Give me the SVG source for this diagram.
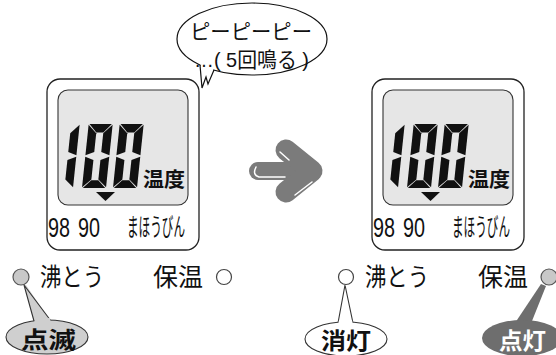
<svg xmlns="http://www.w3.org/2000/svg" xmlns:xlink="http://www.w3.org/1999/xlink" width="556" height="355" viewBox="0 0 556 355">
<style>
.outer{fill:#fff;stroke:#222;stroke-width:1.3}
.lcd{fill:#e6e6e6;stroke:#333;stroke-width:1.1}
.seg{fill:#111}
.jp{font-family:"Noto Sans CJK JP","Noto Sans",sans-serif;fill:#111}
.num{font-family:"Liberation Sans","Noto Sans CJK JP",sans-serif;fill:#111}
.b{font-weight:bold}
.ledon{fill:#c8c8c8;stroke:#555;stroke-width:1.2}
.ledoff{fill:#fff;stroke:#444;stroke-width:1.2}
.hl{fill:none;stroke:#fff;stroke-width:1.5;stroke-linecap:round}
</style>
<defs>
<g id="zero" class="seg">
<polygon points="0.8,0 23.2,0 15.5,8.5 8.5,8.5"/>
<polygon points="0,0.8 8.5,9.3 8.5,28 0,31.2"/>
<polygon points="0,32.8 8.5,36 8.5,55.5 0,63.2"/>
<polygon points="24,0.8 24,31.2 15.5,28 15.5,9.3"/>
<polygon points="24,32.8 24,63.2 15.5,55.5 15.5,36"/>
<polygon points="0.8,64 8.5,56.3 15.5,56.3 23.2,64"/>
</g>
<g id="one" class="seg">
<polygon points="24,0.8 24,31.2 15.5,28 15.5,9.3"/>
<polygon points="24,32.8 24,63.2 15.5,55.5 15.5,36"/>
</g>
<g id="panel">
<rect class="outer" x="47" y="79" width="152" height="171" rx="13"/>
<rect class="lcd" x="58" y="90" width="130" height="115" rx="10"/>
<use xlink:href="#one" transform="translate(55.7,124) skewX(-6)"/>
<use xlink:href="#zero" transform="translate(88.7,124) skewX(-6)"/>
<use xlink:href="#zero" transform="translate(119.7,124) skewX(-6)"/>
<text class="jp b" x="143" y="187" font-size="20" textLength="42" lengthAdjust="spacingAndGlyphs">温度</text>
<polygon points="96,192 115,192 105.5,201" fill="#111"/>
<text class="num" x="48" y="237" font-size="28" textLength="22" lengthAdjust="spacingAndGlyphs">98</text>
<text class="num" x="78" y="237" font-size="28" textLength="22" lengthAdjust="spacingAndGlyphs">90</text>
<text class="jp" x="127" y="236" font-size="25" textLength="58" lengthAdjust="spacingAndGlyphs">まほうびん</text>
<text class="jp" x="40" y="286" font-size="25" textLength="64" lengthAdjust="spacingAndGlyphs">沸とう</text>
<text class="jp" x="153" y="286" font-size="25" textLength="50" lengthAdjust="spacingAndGlyphs">保温</text>
</g>
</defs>

<g id="bubble">
<ellipse cx="252" cy="39" rx="75" ry="36" fill="#fff" stroke="#111" stroke-width="1.2"/>
<polygon points="200.5,64 202,88 206,77 208,84 213.5,69.5 210,67" fill="#fff"/>
<polyline points="200,65 202,88 206,77 208,84 214,70" fill="none" stroke="#111" stroke-width="1.2" stroke-linejoin="miter"/>
<text class="jp" x="190" y="39" font-size="21" textLength="122" lengthAdjust="spacingAndGlyphs">ピーピーピー</text>
<text class="num" x="194" y="67" font-size="21" textLength="115" lengthAdjust="spacingAndGlyphs">…( 5回鳴る )</text>
</g>

<g id="panel-left">
<use xlink:href="#panel"/>
</g>
<g id="panel-right">
<use xlink:href="#panel" transform="translate(325,0)"/>
</g>

<g id="arrow">
<g fill="none" stroke="#7b7b7b" stroke-linecap="round" stroke-linejoin="round">
<line x1="258" y1="171" x2="302" y2="171" stroke-width="18"/>
<polyline points="286,150 312,171 286,192" stroke-width="21"/>
</g>
<path class="hl" d="M256,167 Q252,175 259,177 L285,177"/>
<path class="hl" d="M280,152 L289,160"/>
<path class="hl" d="M295,195 L312,182"/>
</g>

<g id="led-left-boil"><circle class="ledon" cx="21" cy="277" r="8"/></g>
<g id="led-left-keep"><circle class="ledoff" cx="224" cy="277" r="7.5"/></g>
<g id="led-right-boil"><circle class="ledoff" cx="346" cy="277" r="7.5"/></g>
<g id="led-right-keep"><circle class="ledon" cx="549" cy="277" r="8"/></g>

<g id="connectors">
<polygon points="24,285 26,285 51,322 34,322" fill="#cfcfcf"/>
<polyline points="34,321 24,285 51,321" fill="none" stroke="#333" stroke-width="1.1"/>
<polygon points="345,285 347,285 354,324 338,324" fill="#fff"/>
<polyline points="338,323 345,285 353,323" fill="none" stroke="#333" stroke-width="1.1"/>
<polygon points="541,284 546,286 530,326 513,326" fill="#6e6e6e"/>
</g>

<g id="callout-blink">
<ellipse cx="47" cy="337" rx="41" ry="17" fill="#cfcfcf" stroke="#333" stroke-width="1.1"/>
<polygon points="35,318 50,318 51,324 34,324" fill="#cfcfcf"/>
<text class="jp b" x="21" y="348" font-size="23" textLength="55" lengthAdjust="spacingAndGlyphs">点滅</text>
</g>
<g id="callout-off">
<ellipse cx="346" cy="339" rx="41" ry="17" fill="#fff" stroke="#333" stroke-width="1.1"/>
<polygon points="339,320 352,320 353,325 338,325" fill="#fff"/>
<text class="jp b" x="321" y="349" font-size="23" textLength="50" lengthAdjust="spacingAndGlyphs">消灯</text>
</g>
<g id="callout-on">
<ellipse cx="522" cy="338" rx="40" ry="18" fill="#6e6e6e"/>
<text class="jp b" x="499" y="349" font-size="23" textLength="47" lengthAdjust="spacingAndGlyphs" style="fill:#fff">点灯</text>
</g>
</svg>
